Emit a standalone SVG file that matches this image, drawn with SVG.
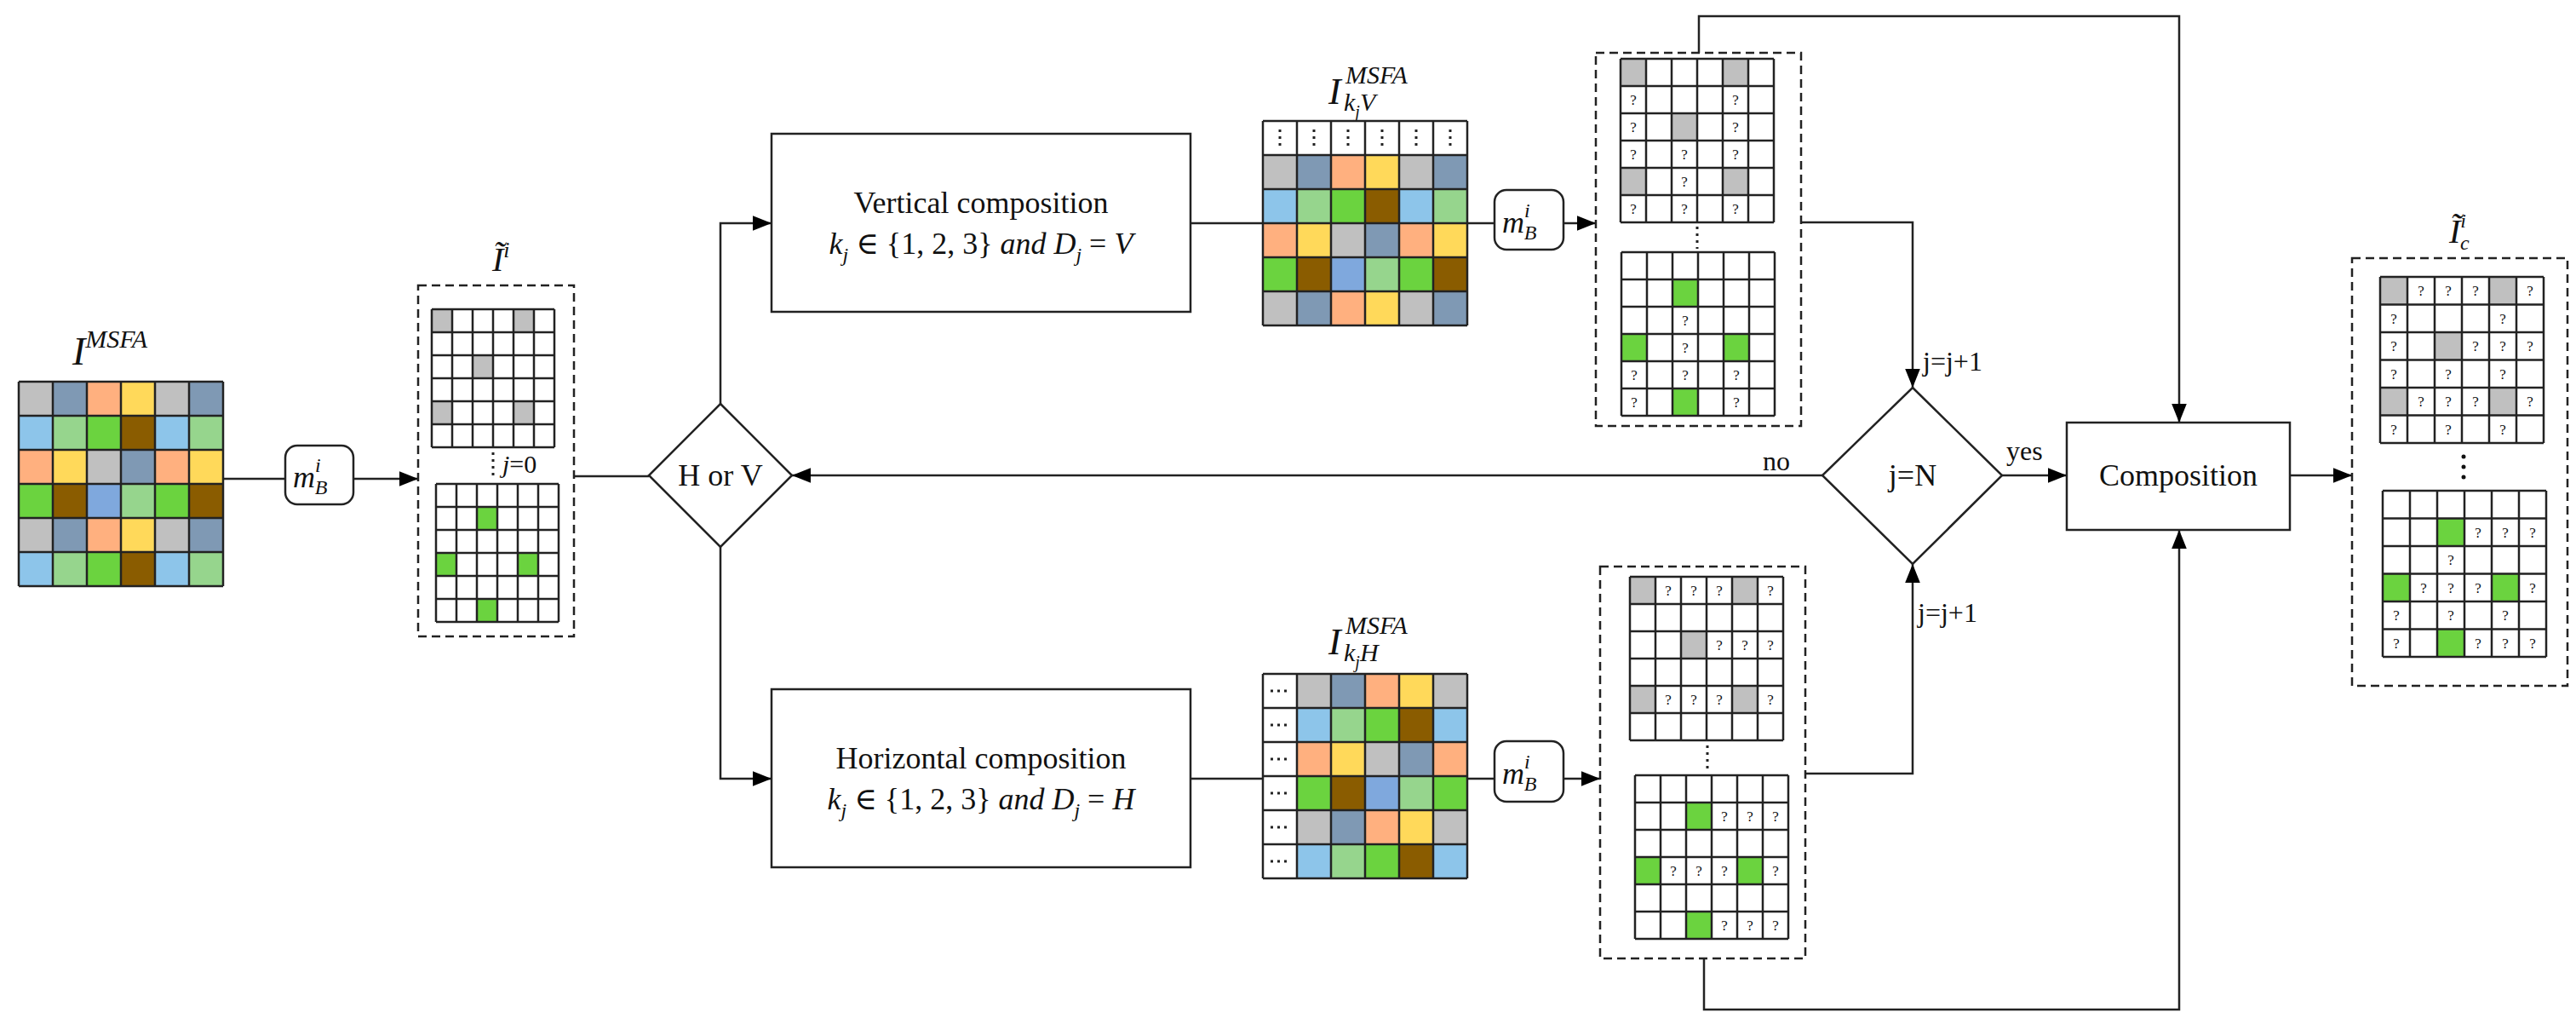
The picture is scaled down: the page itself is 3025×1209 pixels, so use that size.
<svg xmlns="http://www.w3.org/2000/svg" width="3025" height="1209" viewBox="0 0 3025 1209">
<defs>
<marker id="ah" viewBox="0 0 10 10" refX="10" refY="5" markerWidth="7" markerHeight="7" markerUnits="userSpaceOnUse" orient="auto"><path d="M0 0L10 5L0 10z" fill="#000"/></marker>
<marker id="ah2" viewBox="0 0 10 10" refX="10" refY="5" markerWidth="22" markerHeight="22" markerUnits="userSpaceOnUse" orient="auto"><path d="M0 1L10 5L0 9z" fill="#000"/></marker>
</defs>
<style>
text{font-family:"Liberation Serif","DejaVu Serif",serif;fill:#111}
.it{font-style:italic}
.q{font-size:17px;text-anchor:middle}
.gl{fill:none;stroke:#222;stroke-width:2.5}
.gb{fill:#fff}
.dash{fill:none;stroke:#222;stroke-width:2.5;stroke-dasharray:10 6}
.box{fill:#fff;stroke:#222;stroke-width:2.5}
.con{fill:none;stroke:#222;stroke-width:2.5}
.gr{fill:#c0c0c0}.sl{fill:#7f99b4}.or{fill:#ffb07f}.ye{fill:#ffd95a}.lb{fill:#8dc5ea}.lg{fill:#96d58d}.gn{fill:#6bd33f}.br{fill:#8a5c00}.bu{fill:#7fa8dd}
.dots{fill:none;stroke:#222;stroke-width:3;stroke-dasharray:3 5}
</style>

<g id="connectors">
<path class="con" d="M263 562H491" stroke-width="4" marker-end="url(#ah2)"/>
<path class="con" d="M674 559H762"/>
<path class="con" d="M846 474V262H906" marker-end="url(#ah2)"/>
<path class="con" d="M846 642V914H906" marker-end="url(#ah2)"/>
<path class="con" d="M1398 262H1755"/>
<path class="con" d="M1836 262H1874" marker-end="url(#ah2)"/>
<path class="con" d="M1398 914H1755"/>
<path class="con" d="M1836 914H1879" marker-end="url(#ah2)"/>
<path class="con" d="M2115 261H2246V455" marker-end="url(#ah2)"/>
<path class="con" d="M2120 908H2246V662" marker-end="url(#ah2)"/>
<path class="con" d="M2140 558H930" marker-end="url(#ah2)"/>
<path class="con" d="M2351 558H2427" marker-end="url(#ah2)"/>
<path class="con" d="M1995 62V19H2559V496" marker-end="url(#ah2)"/>
<path class="con" d="M2001 1125V1185H2559V622" marker-end="url(#ah2)"/>
<path class="con" d="M2689 558H2762" marker-end="url(#ah2)"/>
<text x="590" y="555" font-size="30"><tspan class="it">j</tspan>=0</text>
<text x="2070" y="552" font-size="32">no</text>
<text x="2356" y="540" font-size="32">yes</text>
<text x="2258" y="435" font-size="32">j=j+1</text>
<text x="2252" y="730" font-size="32">j=j+1</text>
</g>

<g id="input-msfa">
<text x="85" y="428" font-size="46" class="it">I<tspan font-size="30" dy="-20">MSFA</tspan></text>
<rect class="gr" x="22" y="448" width="40" height="40"/><rect class="sl" x="62" y="448" width="40" height="40"/><rect class="or" x="102" y="448" width="40" height="40"/><rect class="ye" x="142" y="448" width="40" height="40"/><rect class="gr" x="182" y="448" width="40" height="40"/><rect class="sl" x="222" y="448" width="40" height="40"/>
<rect class="lb" x="22" y="488" width="40" height="40"/><rect class="lg" x="62" y="488" width="40" height="40"/><rect class="gn" x="102" y="488" width="40" height="40"/><rect class="br" x="142" y="488" width="40" height="40"/><rect class="lb" x="182" y="488" width="40" height="40"/><rect class="lg" x="222" y="488" width="40" height="40"/>
<rect class="or" x="22" y="528" width="40" height="40"/><rect class="ye" x="62" y="528" width="40" height="40"/><rect class="gr" x="102" y="528" width="40" height="40"/><rect class="sl" x="142" y="528" width="40" height="40"/><rect class="or" x="182" y="528" width="40" height="40"/><rect class="ye" x="222" y="528" width="40" height="40"/>
<rect class="gn" x="22" y="568" width="40" height="40"/><rect class="br" x="62" y="568" width="40" height="40"/><rect class="bu" x="102" y="568" width="40" height="40"/><rect class="lg" x="142" y="568" width="40" height="40"/><rect class="gn" x="182" y="568" width="40" height="40"/><rect class="br" x="222" y="568" width="40" height="40"/>
<rect class="gr" x="22" y="608" width="40" height="40"/><rect class="sl" x="62" y="608" width="40" height="40"/><rect class="or" x="102" y="608" width="40" height="40"/><rect class="ye" x="142" y="608" width="40" height="40"/><rect class="gr" x="182" y="608" width="40" height="40"/><rect class="sl" x="222" y="608" width="40" height="40"/>
<rect class="lb" x="22" y="648" width="40" height="40"/><rect class="lg" x="62" y="648" width="40" height="40"/><rect class="gn" x="102" y="648" width="40" height="40"/><rect class="br" x="142" y="648" width="40" height="40"/><rect class="lb" x="182" y="648" width="40" height="40"/><rect class="lg" x="222" y="648" width="40" height="40"/>
<path class="gl" d="M22 448V688M62 448V688M102 448V688M142 448V688M182 448V688M222 448V688M262 448V688M22 448H262M22 488H262M22 528H262M22 568H262M22 608H262M22 648H262M22 688H262"/>
</g>

<g id="mask-op-1">
<rect class="box" x="335" y="523" width="80" height="69" rx="14"/>
<text x="344" y="572" font-size="36" class="it">m<tspan font-size="24" dy="-18">i</tspan><tspan font-size="24" dx="-7" dy="26">B</tspan></text>
</g>

<g id="masked-input">
<text x="578" y="318" font-size="40" class="it">Ĩ<tspan font-size="26" dy="-16">i</tspan></text>
<rect class="dash" x="491" y="335" width="183" height="412"/>
<rect class="gb" x="507" y="363" width="144" height="162"/>
<rect class="gr" x="507" y="363" width="24" height="27"/><rect class="gr" x="603" y="363" width="24" height="27"/><rect class="gr" x="555" y="417" width="24" height="27"/><rect class="gr" x="507" y="471" width="24" height="27"/><rect class="gr" x="603" y="471" width="24" height="27"/>
<path class="gl" d="M507 363V525M531 363V525M555 363V525M579 363V525M603 363V525M627 363V525M651 363V525M507 363H651M507 390H651M507 417H651M507 444H651M507 471H651M507 498H651M507 525H651"/>
<path class="dots" d="M579 531V560"/>
<rect class="gb" x="512" y="568" width="144" height="162"/>
<rect class="gn" x="560" y="595" width="24" height="27"/><rect class="gn" x="512" y="649" width="24" height="27"/><rect class="gn" x="608" y="649" width="24" height="27"/><rect class="gn" x="560" y="703" width="24" height="27"/>
<path class="gl" d="M512 568V730M536 568V730M560 568V730M584 568V730M608 568V730M632 568V730M656 568V730M512 568H656M512 595H656M512 622H656M512 649H656M512 676H656M512 703H656M512 730H656"/>
</g>

<g id="decision-hv">
<path class="box" d="M846 474L930 558L846 642L762 558Z"/>
<text x="846" y="570" font-size="36" text-anchor="middle">H or V</text>
</g>

<g id="vertical-composition">
<rect class="box" x="906" y="157" width="492" height="209"/>
<text x="1152" y="250" font-size="36" text-anchor="middle">Vertical composition</text>
<text x="1152" y="298" font-size="36" text-anchor="middle"><tspan class="it">k</tspan><tspan class="it" font-size="24" dy="9">j</tspan><tspan dy="-9"> ∈ {1, 2, 3} </tspan><tspan class="it">and D</tspan><tspan class="it" font-size="24" dy="9">j</tspan><tspan dy="-9"> = </tspan><tspan class="it">V</tspan></text>
</g>

<g id="horizontal-composition">
<rect class="box" x="906" y="809" width="492" height="209"/>
<text x="1152" y="902" font-size="36" text-anchor="middle">Horizontal composition</text>
<text x="1152" y="950" font-size="36" text-anchor="middle"><tspan class="it">k</tspan><tspan class="it" font-size="24" dy="9">j</tspan><tspan dy="-9"> ∈ {1, 2, 3} </tspan><tspan class="it">and D</tspan><tspan class="it" font-size="24" dy="9">j</tspan><tspan dy="-9"> = </tspan><tspan class="it">H</tspan></text>
</g>

<g id="msfa-v">
<text x="1560" y="122" font-size="44" class="it">I</text>
<text x="1580" y="98" font-size="30" class="it">MSFA</text>
<text x="1578" y="130" font-size="30" class="it">k<tspan font-size="20" dy="8">j</tspan><tspan dy="-8">V</tspan></text>
<rect class="gb" x="1483" y="142" width="240" height="40"/>
<rect class="gr" x="1483" y="182" width="40" height="40"/><rect class="sl" x="1523" y="182" width="40" height="40"/><rect class="or" x="1563" y="182" width="40" height="40"/><rect class="ye" x="1603" y="182" width="40" height="40"/><rect class="gr" x="1643" y="182" width="40" height="40"/><rect class="sl" x="1683" y="182" width="40" height="40"/>
<rect class="lb" x="1483" y="222" width="40" height="40"/><rect class="lg" x="1523" y="222" width="40" height="40"/><rect class="gn" x="1563" y="222" width="40" height="40"/><rect class="br" x="1603" y="222" width="40" height="40"/><rect class="lb" x="1643" y="222" width="40" height="40"/><rect class="lg" x="1683" y="222" width="40" height="40"/>
<rect class="or" x="1483" y="262" width="40" height="40"/><rect class="ye" x="1523" y="262" width="40" height="40"/><rect class="gr" x="1563" y="262" width="40" height="40"/><rect class="sl" x="1603" y="262" width="40" height="40"/><rect class="or" x="1643" y="262" width="40" height="40"/><rect class="ye" x="1683" y="262" width="40" height="40"/>
<rect class="gn" x="1483" y="302" width="40" height="40"/><rect class="br" x="1523" y="302" width="40" height="40"/><rect class="bu" x="1563" y="302" width="40" height="40"/><rect class="lg" x="1603" y="302" width="40" height="40"/><rect class="gn" x="1643" y="302" width="40" height="40"/><rect class="br" x="1683" y="302" width="40" height="40"/>
<rect class="gr" x="1483" y="342" width="40" height="40"/><rect class="sl" x="1523" y="342" width="40" height="40"/><rect class="or" x="1563" y="342" width="40" height="40"/><rect class="ye" x="1603" y="342" width="40" height="40"/><rect class="gr" x="1643" y="342" width="40" height="40"/><rect class="sl" x="1683" y="342" width="40" height="40"/>
<path class="gl" d="M1483 142V382M1523 142V382M1563 142V382M1603 142V382M1643 142V382M1683 142V382M1723 142V382M1483 142H1723M1483 182H1723M1483 222H1723M1483 262H1723M1483 302H1723M1483 342H1723M1483 382H1723"/>
<path class="dots" d="M1503 152V174M1543 152V174M1583 152V174M1623 152V174M1663 152V174M1703 152V174" stroke-width="2" stroke-dasharray="2 4"/>
</g>

<g id="mask-op-v">
<rect class="box" x="1755" y="223" width="81" height="70" rx="14"/>
<text x="1764" y="273" font-size="36" class="it">m<tspan font-size="24" dy="-18">i</tspan><tspan font-size="24" dx="-7" dy="26">B</tspan></text>
</g>

<g id="masked-v">
<rect class="dash" x="1874" y="62" width="241" height="438"/>
<rect class="gb" x="1903" y="69" width="180" height="192"/>
<rect class="gr" x="1903" y="69" width="30" height="32"/><rect class="gr" x="2023" y="69" width="30" height="32"/><rect class="gr" x="1963" y="133" width="30" height="32"/><rect class="gr" x="1903" y="197" width="30" height="32"/><rect class="gr" x="2023" y="197" width="30" height="32"/>
<path class="gl" d="M1903 69V261M1933 69V261M1963 69V261M1993 69V261M2023 69V261M2053 69V261M2083 69V261M1903 69H2083M1903 101H2083M1903 133H2083M1903 165H2083M1903 197H2083M1903 229H2083M1903 261H2083"/>
<g class="q"><text x="1918" y="123" class="q">?</text><text x="2038" y="123" class="q">?</text><text x="1918" y="155" class="q">?</text><text x="2038" y="155" class="q">?</text><text x="1918" y="187" class="q">?</text><text x="1978" y="187" class="q">?</text><text x="2038" y="187" class="q">?</text><text x="1978" y="219" class="q">?</text><text x="1918" y="251" class="q">?</text><text x="1978" y="251" class="q">?</text><text x="2038" y="251" class="q">?</text></g>
<path class="dots" d="M1993 266V292"/>
<rect class="gb" x="1904" y="296" width="180" height="192"/>
<rect class="gn" x="1964" y="328" width="30" height="32"/><rect class="gn" x="1904" y="392" width="30" height="32"/><rect class="gn" x="2024" y="392" width="30" height="32"/><rect class="gn" x="1964" y="456" width="30" height="32"/>
<path class="gl" d="M1904 296V488M1934 296V488M1964 296V488M1994 296V488M2024 296V488M2054 296V488M2084 296V488M1904 296H2084M1904 328H2084M1904 360H2084M1904 392H2084M1904 424H2084M1904 456H2084M1904 488H2084"/>
<text x="1979" y="382" class="q">?</text><text x="1979" y="414" class="q">?</text><text x="1919" y="446" class="q">?</text><text x="1979" y="446" class="q">?</text><text x="2039" y="446" class="q">?</text><text x="1919" y="478" class="q">?</text><text x="2039" y="478" class="q">?</text>
</g>

<g id="msfa-h">
<text x="1560" y="768" font-size="44" class="it">I</text>
<text x="1580" y="744" font-size="30" class="it">MSFA</text>
<text x="1578" y="776" font-size="30" class="it">k<tspan font-size="20" dy="8">j</tspan><tspan dy="-8">H</tspan></text>
<rect class="gb" x="1483" y="791" width="40" height="240"/>
<rect class="gr" x="1523" y="791" width="40" height="40"/><rect class="sl" x="1563" y="791" width="40" height="40"/><rect class="or" x="1603" y="791" width="40" height="40"/><rect class="ye" x="1643" y="791" width="40" height="40"/><rect class="gr" x="1683" y="791" width="40" height="40"/>
<rect class="lb" x="1523" y="831" width="40" height="40"/><rect class="lg" x="1563" y="831" width="40" height="40"/><rect class="gn" x="1603" y="831" width="40" height="40"/><rect class="br" x="1643" y="831" width="40" height="40"/><rect class="lb" x="1683" y="831" width="40" height="40"/>
<rect class="or" x="1523" y="871" width="40" height="40"/><rect class="ye" x="1563" y="871" width="40" height="40"/><rect class="gr" x="1603" y="871" width="40" height="40"/><rect class="sl" x="1643" y="871" width="40" height="40"/><rect class="or" x="1683" y="871" width="40" height="40"/>
<rect class="gn" x="1523" y="911" width="40" height="40"/><rect class="br" x="1563" y="911" width="40" height="40"/><rect class="bu" x="1603" y="911" width="40" height="40"/><rect class="lg" x="1643" y="911" width="40" height="40"/><rect class="gn" x="1683" y="911" width="40" height="40"/>
<rect class="gr" x="1523" y="951" width="40" height="40"/><rect class="sl" x="1563" y="951" width="40" height="40"/><rect class="or" x="1603" y="951" width="40" height="40"/><rect class="ye" x="1643" y="951" width="40" height="40"/><rect class="gr" x="1683" y="951" width="40" height="40"/>
<rect class="lb" x="1523" y="991" width="40" height="40"/><rect class="lg" x="1563" y="991" width="40" height="40"/><rect class="gn" x="1603" y="991" width="40" height="40"/><rect class="br" x="1643" y="991" width="40" height="40"/><rect class="lb" x="1683" y="991" width="40" height="40"/>
<path class="gl" d="M1483 791V1031M1523 791V1031M1563 791V1031M1603 791V1031M1643 791V1031M1683 791V1031M1723 791V1031M1483 791H1723M1483 831H1723M1483 871H1723M1483 911H1723M1483 951H1723M1483 991H1723M1483 1031H1723"/>
<path class="dots" d="M1492 811H1516M1492 851H1516M1492 891H1516M1492 931H1516M1492 971H1516M1492 1011H1516" stroke-width="2" stroke-dasharray="3 4"/>
</g>

<g id="mask-op-h">
<rect class="box" x="1755" y="870" width="81" height="71" rx="14"/>
<text x="1764" y="920" font-size="36" class="it">m<tspan font-size="24" dy="-18">i</tspan><tspan font-size="24" dx="-7" dy="26">B</tspan></text>
</g>

<g id="masked-h">
<rect class="dash" x="1879" y="665" width="241" height="460"/>
<rect class="gb" x="1914" y="677" width="180" height="192"/>
<rect class="gr" x="1914" y="677" width="30" height="32"/><rect class="gr" x="2034" y="677" width="30" height="32"/><rect class="gr" x="1974" y="741" width="30" height="32"/><rect class="gr" x="1914" y="805" width="30" height="32"/><rect class="gr" x="2034" y="805" width="30" height="32"/>
<path class="gl" d="M1914 677V869M1944 677V869M1974 677V869M2004 677V869M2034 677V869M2064 677V869M2094 677V869M1914 677H2094M1914 709H2094M1914 741H2094M1914 773H2094M1914 805H2094M1914 837H2094M1914 869H2094"/>
<text x="1959" y="699" class="q">?</text><text x="1989" y="699" class="q">?</text><text x="2019" y="699" class="q">?</text><text x="2079" y="699" class="q">?</text>
<text x="2019" y="763" class="q">?</text><text x="2049" y="763" class="q">?</text><text x="2079" y="763" class="q">?</text>
<text x="1959" y="827" class="q">?</text><text x="1989" y="827" class="q">?</text><text x="2019" y="827" class="q">?</text><text x="2079" y="827" class="q">?</text>
<path class="dots" d="M2005 875V905"/>
<rect class="gb" x="1920" y="910" width="180" height="192"/>
<rect class="gn" x="1980" y="942" width="30" height="32"/><rect class="gn" x="1920" y="1006" width="30" height="32"/><rect class="gn" x="2040" y="1006" width="30" height="32"/><rect class="gn" x="1980" y="1070" width="30" height="32"/>
<path class="gl" d="M1920 910V1102M1950 910V1102M1980 910V1102M2010 910V1102M2040 910V1102M2070 910V1102M2100 910V1102M1920 910H2100M1920 942H2100M1920 974H2100M1920 1006H2100M1920 1038H2100M1920 1070H2100M1920 1102H2100"/>
<text x="2025" y="964" class="q">?</text><text x="2055" y="964" class="q">?</text><text x="2085" y="964" class="q">?</text>
<text x="1965" y="1028" class="q">?</text><text x="1995" y="1028" class="q">?</text><text x="2025" y="1028" class="q">?</text><text x="2085" y="1028" class="q">?</text>
<text x="2025" y="1092" class="q">?</text><text x="2055" y="1092" class="q">?</text><text x="2085" y="1092" class="q">?</text>
</g>

<g id="decision-jn">
<path class="box" d="M2246 455L2351 558L2246 662L2140 558Z"/>
<text x="2246" y="570" font-size="36" text-anchor="middle">j=N</text>
</g>

<g id="composition">
<rect class="box" x="2427" y="496" width="262" height="126"/>
<text x="2558" y="570" font-size="36" text-anchor="middle">Composition</text>
</g>

<g id="output">
<text x="2876" y="285" font-size="40" class="it">Ĩ<tspan font-size="24" dy="-18">i</tspan><tspan font-size="24" dx="-7" dy="26">c</tspan></text>
<rect class="dash" x="2762" y="303" width="253" height="502"/>
<rect class="gb" x="2795" y="325" width="192" height="195"/>
<rect class="gr" x="2795" y="325" width="32" height="32.5"/><rect class="gr" x="2923" y="325" width="32" height="32.5"/><rect class="gr" x="2859" y="390" width="32" height="32.5"/><rect class="gr" x="2795" y="455" width="32" height="32.5"/><rect class="gr" x="2923" y="455" width="32" height="32.5"/>
<path class="gl" d="M2795 325V520M2827 325V520M2859 325V520M2891 325V520M2923 325V520M2955 325V520M2987 325V520M2795 325H2987M2795 357.5H2987M2795 390H2987M2795 422.5H2987M2795 455H2987M2795 487.5H2987M2795 520H2987"/>
<text x="2843" y="347" class="q">?</text><text x="2875" y="347" class="q">?</text><text x="2907" y="347" class="q">?</text><text x="2971" y="347" class="q">?</text>
<text x="2811" y="379.5" class="q">?</text><text x="2939" y="379.5" class="q">?</text>
<text x="2811" y="412" class="q">?</text><text x="2907" y="412" class="q">?</text><text x="2939" y="412" class="q">?</text><text x="2971" y="412" class="q">?</text>
<text x="2811" y="444.5" class="q">?</text><text x="2875" y="444.5" class="q">?</text><text x="2939" y="444.5" class="q">?</text>
<text x="2843" y="477" class="q">?</text><text x="2875" y="477" class="q">?</text><text x="2907" y="477" class="q">?</text><text x="2971" y="477" class="q">?</text>
<text x="2811" y="509.5" class="q">?</text><text x="2875" y="509.5" class="q">?</text><text x="2939" y="509.5" class="q">?</text>
<circle cx="2893" cy="536" r="2.5" fill="#111"/><circle cx="2893" cy="548" r="2.5" fill="#111"/><circle cx="2893" cy="560" r="2.5" fill="#111"/>
<rect class="gb" x="2798" y="576" width="192" height="195"/>
<rect class="gn" x="2862" y="608.5" width="32" height="32.5"/><rect class="gn" x="2798" y="673.5" width="32" height="32.5"/><rect class="gn" x="2926" y="673.5" width="32" height="32.5"/><rect class="gn" x="2862" y="738.5" width="32" height="32.5"/>
<path class="gl" d="M2798 576V771M2830 576V771M2862 576V771M2894 576V771M2926 576V771M2958 576V771M2990 576V771M2798 576H2990M2798 608.5H2990M2798 641H2990M2798 673.5H2990M2798 706H2990M2798 738.5H2990M2798 771H2990"/>
<text x="2910" y="630.5" class="q">?</text><text x="2942" y="630.5" class="q">?</text><text x="2974" y="630.5" class="q">?</text>
<text x="2878" y="663" class="q">?</text>
<text x="2846" y="695.5" class="q">?</text><text x="2878" y="695.5" class="q">?</text><text x="2910" y="695.5" class="q">?</text><text x="2974" y="695.5" class="q">?</text>
<text x="2814" y="728" class="q">?</text><text x="2878" y="728" class="q">?</text><text x="2942" y="728" class="q">?</text>
<text x="2814" y="760.5" class="q">?</text><text x="2910" y="760.5" class="q">?</text><text x="2942" y="760.5" class="q">?</text><text x="2974" y="760.5" class="q">?</text>
</g>
</svg>
